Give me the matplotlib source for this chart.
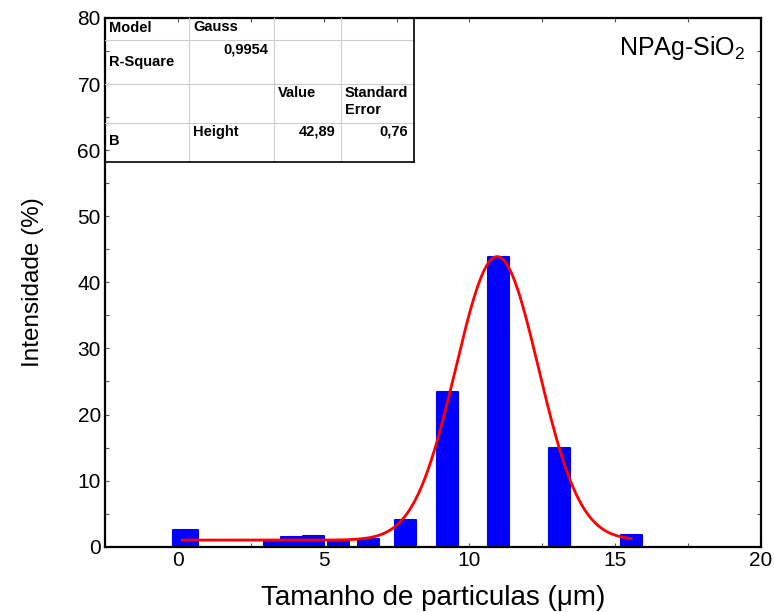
import numpy as np
import matplotlib
matplotlib.use("Agg")
import matplotlib.pyplot as plt
from matplotlib.ticker import MultipleLocator

plt.rcParams['font.family'] = ['Liberation Sans', 'DejaVu Sans']
plt.rcParams['mathtext.fontset'] = 'custom'
plt.rcParams['mathtext.rm'] = 'Liberation Sans'

# histogram bars
tamanho = [0.25, 3.3, 3.9, 4.65, 5.5, 6.55, 7.8, 9.25, 11.0, 13.1, 15.55]
intens = [2.6, 0.8, 1.5, 1.6, 0.8, 1.1, 4.1, 23.4, 43.9, 15.0, 1.7]
largura = [0.85, 0.72, 0.72, 0.72, 0.72, 0.72, 0.72, 0.72, 0.72, 0.72, 0.72]

# Gauss fit parameters
y0, xc, sig, amp = 1.0, 10.95, 1.42, 42.89

tabela = [["Model", "Gauss", "", ""],
          ["R-Square", "0,9954", "", ""],
          ["", "", "Value", "Standard\nError"],
          ["B", "Height", "42,89", "0,76"]]


def main():
    fig = plt.figure(figsize=(7.74, 6.12), dpi=100)
    ax = fig.add_axes([0.1357, 0.1067, 0.8475, 0.8639])

    ax.bar(tamanho, intens, width=largura, color="#0000ff", edgecolor="#0000ff",
           lw=1.5, joinstyle="round", zorder=2)
    xf = np.linspace(tamanho[0] - 0.1, tamanho[-1], 400)
    yf = y0 + amp * np.exp(-(xf - xc) ** 2 / (2 * sig ** 2))
    ax.plot(xf, yf, color="#ff0000", lw=2, zorder=3)

    ax.set_xlim(-2.5, 20)
    ax.set_ylim(0, 80)
    ax.xaxis.set_major_locator(MultipleLocator(5))
    ax.xaxis.set_minor_locator(MultipleLocator(2.5))
    ax.yaxis.set_major_locator(MultipleLocator(10))
    ax.yaxis.set_minor_locator(MultipleLocator(5))
    ax.tick_params(which="both", direction="in", top=True, right=True,
                   length=3, width=0.8, color="#555555", labelsize=15, pad=3)
    for s in ax.spines.values():
        s.set_linewidth(1.6)
    ax.set_xlabel("Tamanho de particulas (\u03bcm)", fontsize=20, labelpad=11)
    ax.set_ylabel("Intensidade (%)", fontsize=17.5, labelpad=24)

    ax.text(0.88, 0.943, "NPAg-SiO$_2$", transform=ax.transAxes, fontsize=18,
            ha="center", va="center")

    # fit table, laid out in pixels from the axes top-left corner
    W, H = 656.0, 528.7
    X0, Y0 = 105, 18
    cols = [105, 189, 274, 341, 414]
    rows = [18, 40, 84, 123, 162]
    tr = ax.transAxes

    def fx(px):
        return (px - X0) / W

    def fy(py):
        return 1 - (py - Y0) / H

    for c in cols[1:-1]:
        ax.plot([fx(c)] * 2, [1, fy(rows[-1])], color="#cccccc", lw=0.8,
                transform=tr, zorder=4)
    for r in rows[1:-1]:
        ax.plot([0, fx(cols[-1])], [fy(r)] * 2, color="#cccccc", lw=0.8,
                transform=tr, zorder=4)
    ax.plot([fx(cols[-1])] * 2, [1, fy(rows[-1])], color="k", lw=1.2,
            transform=tr, zorder=4)
    ax.plot([0, fx(cols[-1])], [fy(rows[-1])] * 2, color="k", lw=1.2,
            transform=tr, zorder=4)

    def cell(txt, c, py, right=False):
        if right:
            x, ha = fx(cols[c + 1] - 6), "right"
        else:
            x, ha = fx(cols[c] + 4), "left"
        ax.text(x, fy(py), txt, transform=tr, ha=ha, va="center",
                fontsize=10.5, fontweight="bold", linespacing=1.25, zorder=5)

    cell(tabela[0][0], 0, 28)
    cell(tabela[0][1], 1, 27)
    cell(tabela[1][0], 0, 62)
    cell(tabela[1][1], 1, 50, right=True)
    cell(tabela[2][2], 2, 93)
    cell(tabela[2][3], 3, 101.5)
    cell(tabela[3][0], 0, 141)
    cell(tabela[3][1], 1, 132)
    cell(tabela[3][2], 2, 132, right=True)
    cell(tabela[3][3], 3, 132, right=True)

    fig.savefig("out.png", dpi=100)
    plt.close(fig)


if __name__ == "__main__":
    main()
